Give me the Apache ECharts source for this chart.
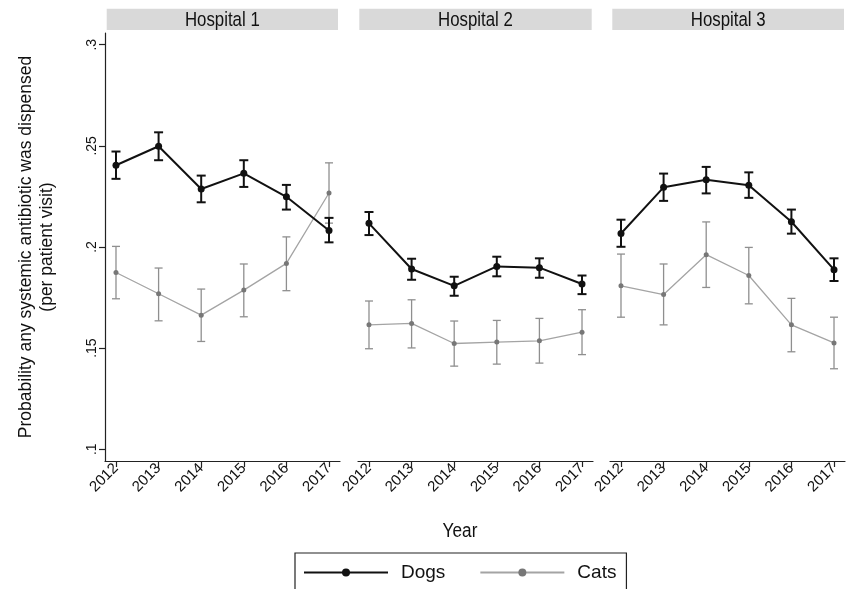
<!DOCTYPE html>
<html><head><meta charset="utf-8">
<script src="https://cdn.jsdelivr.net/npm/echarts@6/dist/echarts.min.js"></script>
<style>html,body{margin:0;padding:0;background:#fff}#c{width:848px;height:589px}</style>
</head><body><div id="c"></div>
<script>
const years = [2012, 2013, 2014, 2015, 2016, 2017];
const hospitals = ['Hospital 1', 'Hospital 2', 'Hospital 3'];
const yTicks = [0.1, 0.15, 0.2, 0.25, 0.3];
const yTickLabels = ['.1', '.15', '.2', '.25', '.3'];
const seriesNames = ['Dogs', 'Cats'];

// Hospital 1
const dogsEst1 = [0.2404, 0.2498, 0.2287, 0.2364, 0.2248, 0.2082];
const dogsLo1  = [0.2337, 0.2429, 0.2221, 0.2297, 0.2185, 0.2023];
const dogsHi1  = [0.2472, 0.2567, 0.2353, 0.2429, 0.2307, 0.2144];
const catsEst1 = [0.1874, 0.1769, 0.1663, 0.1787, 0.1919, 0.2267];
const catsLo1  = [0.1744, 0.1635, 0.1533, 0.1655, 0.1784, 0.2118];
const catsHi1  = [0.2003, 0.1896, 0.1792, 0.1916, 0.2050, 0.2416];
// Hospital 2
const dogsEst2 = [0.2117, 0.1891, 0.1808, 0.1904, 0.1898, 0.1817];
const dogsLo2  = [0.2059, 0.1838, 0.1759, 0.1855, 0.1848, 0.1767];
const dogsHi2  = [0.2173, 0.1942, 0.1853, 0.1952, 0.1944, 0.1859];
const catsEst2 = [0.1615, 0.1622, 0.1523, 0.1530, 0.1536, 0.1579];
const catsLo2  = [0.1497, 0.1501, 0.1411, 0.1421, 0.1426, 0.1468];
const catsHi2  = [0.1733, 0.1739, 0.1634, 0.1637, 0.1647, 0.1690];
// Hospital 3
const dogsEst3 = [0.2067, 0.2295, 0.2332, 0.2305, 0.2125, 0.1888];
const dogsLo3  = [0.2001, 0.2228, 0.2265, 0.2243, 0.2066, 0.1832];
const dogsHi3  = [0.2135, 0.2363, 0.2396, 0.2369, 0.2185, 0.1944];
const catsEst3 = [0.1808, 0.1765, 0.1962, 0.1859, 0.1615, 0.1526];
const catsLo3  = [0.1653, 0.1615, 0.1800, 0.1719, 0.1482, 0.1398];
const catsHi3  = [0.1965, 0.1916, 0.2124, 0.1998, 0.1746, 0.1653];

const panels = [
  {dogs:[dogsEst1,dogsLo1,dogsHi1], cats:[catsEst1,catsLo1,catsHi1]},
  {dogs:[dogsEst2,dogsLo2,dogsHi2], cats:[catsEst2,catsLo2,catsHi2]},
  {dogs:[dogsEst3,dogsLo3,dogsHi3], cats:[catsEst3,catsLo3,catsHi3]}
];

const FONT = '"Liberation Sans", Arial, sans-serif';
const AX = '#222';
const gridLefts = [105, 358, 610];
const gridW = 235, gridTop = 33, gridH = 428;
const headerBoxes = [[106.7, 231.3], [359.3, 232.4], [612.3, 231.7]];
const xPad = 0.258;

function errRender(capHalf, color, width) {
  return function (params, api) {
    const x = api.value(0);
    const lo = api.coord([x, api.value(1)]);
    const hi = api.coord([x, api.value(2)]);
    const st = {stroke: color, lineWidth: width};
    return {type: 'group', children: [
      {type: 'line', shape: {x1: lo[0], y1: lo[1], x2: hi[0], y2: hi[1]}, style: st},
      {type: 'line', shape: {x1: lo[0] - capHalf, y1: lo[1], x2: lo[0] + capHalf, y2: lo[1]}, style: st},
      {type: 'line', shape: {x1: hi[0] - capHalf, y1: hi[1], x2: hi[0] + capHalf, y2: hi[1]}, style: st}
    ]};
  };
}

const grid = [], xAxis = [], yAxis = [], series = [], graphic = [];
panels.forEach((p, i) => {
  grid.push({left: gridLefts[i], top: gridTop, width: gridW, height: gridH});
  xAxis.push({
    type: 'value', gridIndex: i, min: 2012 - xPad, max: 2017 + xPad,
    axisLine: {show: true, onZero: false, lineStyle: {color: AX, width: 1.2}},
    axisTick: {show: true, customValues: years, length: 6, lineStyle: {color: AX, width: 1.2}},
    axisLabel: {customValues: years, rotate: 45, fontSize: 15, fontFamily: FONT, color: '#111', margin: 5, formatter: v => String(v)},
    splitLine: {show: false}
  });
  const ya = {
    type: 'value', gridIndex: i, min: 0.0942, max: 0.3058,
    splitLine: {show: false},
    axisLine: {show: i === 0, lineStyle: {color: AX, width: 1.2}},
    axisTick: {show: i === 0, customValues: yTicks, length: 6, lineStyle: {color: AX, width: 1.2}},
    axisLabel: {show: i === 0, customValues: yTicks, rotate: 90, fontSize: 14, fontFamily: FONT, color: '#111', margin: 6,
      formatter: v => { const k = yTicks.findIndex(t => Math.abs(t - v) < 1e-9); return k >= 0 ? yTickLabels[k] : ''; }}
  };
  if (i === 0) {
    ya.name = 'Probability any systemic antibiotic was dispensed\n(per patient visit)';
    ya.nameLocation = 'middle';
    ya.nameRotate = 90;
    ya.nameGap = 47;
    ya.nameTextStyle = {fontSize: 17.5, fontFamily: FONT, color: '#111', lineHeight: 21};
  }
  yAxis.push(ya);

  const mk = (arr) => years.map((y, k) => [y, arr[k]]);
  const mkErr = (lo, hi) => years.map((y, k) => [y, lo[k], hi[k]]);
  // Cats
  series.push({type: 'custom', xAxisIndex: i, yAxisIndex: i, renderItem: errRender(4, '#8f8f8f', 1.3),
    data: mkErr(p.cats[1], p.cats[2]), encode: {x: 0, y: [1, 2]}, z: 2, silent: true});
  series.push({type: 'line', name: seriesNames[1], xAxisIndex: i, yAxisIndex: i, data: mk(p.cats[0]),
    symbol: 'circle', symbolSize: 5, itemStyle: {color: '#777'}, lineStyle: {color: '#a4a4a4', width: 1.3},
    z: 3, animation: false});
  // Dogs
  series.push({type: 'custom', xAxisIndex: i, yAxisIndex: i, renderItem: errRender(4.5, '#111', 2),
    data: mkErr(p.dogs[1], p.dogs[2]), encode: {x: 0, y: [1, 2]}, z: 4, silent: true});
  series.push({type: 'line', name: seriesNames[0], xAxisIndex: i, yAxisIndex: i, data: mk(p.dogs[0]),
    symbol: 'circle', symbolSize: 7, itemStyle: {color: '#111'}, lineStyle: {color: '#111', width: 2},
    z: 5, animation: false});

  const hb = headerBoxes[i];
  graphic.push({type: 'rect', left: hb[0], top: 8.7, shape: {width: hb[1], height: 21.3}, style: {fill: '#d9d9d9'}, silent: true});
  graphic.push({type: 'text', x: hb[0] + hb[1] / 2, y: 20, scaleX: 0.82, style: {text: hospitals[i], fontSize: 20.5, fontFamily: FONT, fill: '#111', align: 'center', verticalAlign: 'middle'}, silent: true});
});
graphic.push({type: 'text', x: 460, y: 531, scaleX: 0.86, style: {text: 'Year', fontSize: 20, fontFamily: FONT, fill: '#111', align: 'center', verticalAlign: 'middle'}, silent: true});

const chart = echarts.init(document.getElementById('c'), null, {renderer: 'canvas'});
chart.setOption({
  animation: false,
  backgroundColor: '#fff',
  grid, xAxis, yAxis, series, graphic,
  legend: {
    data: seriesNames, left: 295, top: 553, orient: 'horizontal',
    borderColor: '#222', borderWidth: 1.2, padding: [10, 10, 30, 8],
    itemWidth: 84, itemHeight: 10, itemGap: 34,
    textStyle: {fontSize: 19, fontFamily: FONT, color: '#111', padding: [0, 0, 0, 8]},
    selectedMode: false
  }
});
</script></body></html>
